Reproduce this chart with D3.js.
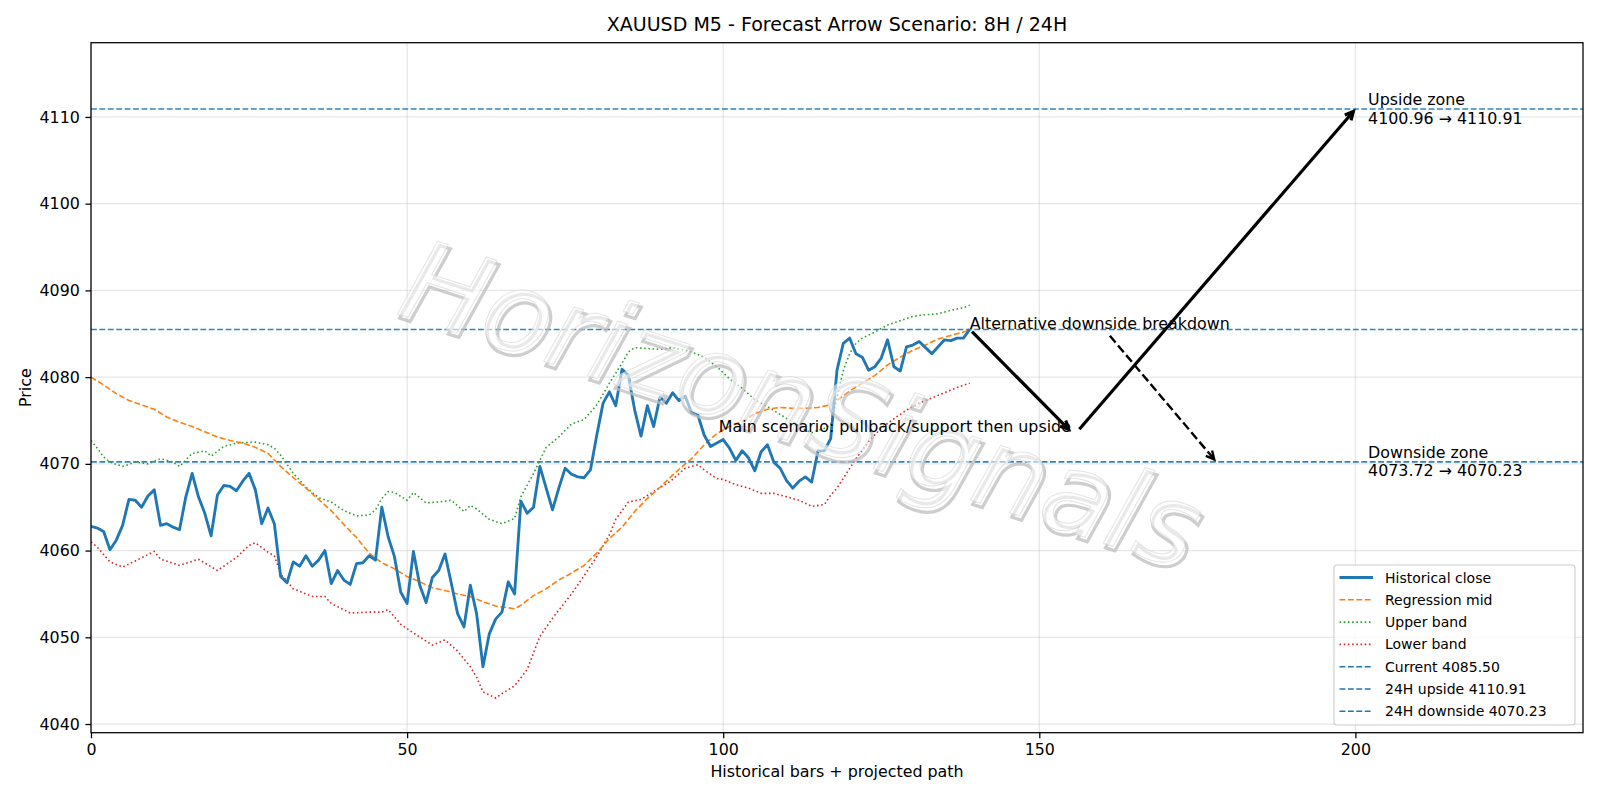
<!DOCTYPE html>
<html>
<head>
<meta charset="utf-8">
<script src="https://cdn.jsdelivr.net/npm/d3@7"></script>
<style>
  html, body { margin: 0; padding: 0; background: #fff; }
  svg { display: block; font-family: "DejaVu Sans", sans-serif; }
</style>
</head>
<body>
<svg id="chart" width="1600" height="800"></svg>
<script>
// ======================= DATA ===============================
const closeValues = [
  4062.8, 4062.6, 4062.2, 4060.1, 4061.2, 4062.9, 4065.9, 4065.8, 4065.0, 4066.3,
  4067.0, 4062.9, 4063.1, 4062.7, 4062.4, 4066.2, 4068.9, 4066.2, 4064.3, 4061.7,
  4066.4, 4067.5, 4067.4, 4066.9, 4068.0, 4068.9, 4067.0, 4063.1, 4064.9, 4063.1,
  4057.0, 4056.3, 4058.7, 4058.2, 4059.4, 4058.2, 4058.9, 4060.0, 4056.2, 4057.7,
  4056.6, 4056.1, 4058.5, 4058.6, 4059.4, 4058.9, 4065.0, 4061.6, 4059.3, 4055.2,
  4053.9, 4059.9, 4056.0, 4054.0, 4056.9, 4057.7, 4059.6, 4056.2, 4052.7, 4051.2,
  4056.0, 4052.7, 4046.6, 4050.4, 4052.1, 4052.9, 4056.4, 4055.0, 4065.7, 4064.3,
  4065.0, 4069.7, 4067.2, 4064.7, 4067.2, 4069.5, 4068.8, 4068.5, 4068.4, 4069.3,
  4073.3, 4077.0, 4078.3, 4076.7, 4080.9, 4080.2, 4076.2, 4073.2, 4076.7, 4074.3,
  4077.7, 4077.0, 4078.2, 4077.3, 4077.8, 4075.9, 4075.6, 4073.3, 4072.0, 4072.4,
  4072.8, 4071.8, 4070.4, 4071.5, 4070.7, 4069.2, 4071.4, 4072.2, 4070.2, 4069.5,
  4068.1, 4067.2, 4068.0, 4068.5, 4067.9, 4071.5, 4071.5, 4072.9, 4080.8, 4083.9,
  4084.5, 4082.7, 4082.3, 4080.8, 4081.2, 4082.2, 4084.3, 4081.2, 4080.7, 4083.5,
  4083.7, 4084.1, 4083.4, 4082.7, 4083.5, 4084.3, 4084.2, 4084.5, 4084.5, 4085.5
];

const midIdx = [0, 2, 4, 6, 8, 10, 12, 14, 16, 18, 20, 22, 24, 26, 28, 30, 32, 34, 36, 38,
  40, 42, 44, 46, 48, 50, 52, 54, 56, 58, 60, 62, 64, 66, 67, 68, 70, 72, 74, 76,
  78, 80, 82, 84, 86, 88, 90, 92, 94, 95, 97, 99, 101, 103, 105, 107, 109, 111, 113, 115,
  117, 118, 120, 122, 124, 126, 128, 130, 132, 134, 136, 138, 139];
const midValues = [4080.0, 4079.1, 4078.1, 4077.3, 4076.8, 4076.3, 4075.4, 4074.8, 4074.3, 4073.7,
  4073.1, 4072.7, 4072.4, 4071.9, 4071.2, 4069.7, 4068.4, 4067.2, 4065.9, 4064.6,
  4063.0, 4061.5, 4059.7, 4058.6, 4057.9, 4057.0, 4056.4, 4055.7, 4055.4, 4055.0,
  4054.7, 4054.1, 4053.6, 4053.4, 4053.3, 4053.7, 4054.8, 4055.6, 4056.6, 4057.4,
  4058.3, 4059.7, 4061.4, 4062.7, 4064.5, 4066.0, 4067.3, 4068.7, 4070.0, 4070.6,
  4072.2, 4073.5, 4074.3, 4074.9, 4075.8, 4076.3, 4076.5, 4076.4, 4076.4, 4076.5,
  4076.8, 4077.3, 4078.4, 4079.3, 4080.2, 4081.4, 4082.3, 4083.1, 4083.7, 4084.4,
  4084.8, 4085.2, 4085.4];

const upperIdx = [0, 1, 2, 3, 5, 7, 9, 11, 13, 14, 16, 18, 19, 21, 23, 26, 28, 29, 30, 32,
  34, 36, 38, 40, 42, 44, 45, 46, 47, 48, 50, 51, 53, 55, 57, 59, 60, 61, 63, 65,
  67, 68, 70, 72, 74, 76, 78, 80, 82, 84, 85, 86, 88, 90, 92, 94, 95, 97, 99, 101,
  103, 105, 107, 109, 111, 113, 114, 116, 117, 118, 119, 120, 121, 122, 124, 126, 128, 130, 132, 134,
  136, 138, 139];
const upperValues = [4072.7, 4071.8, 4070.8, 4070.2, 4069.7, 4070.2, 4070.0, 4070.6, 4070.2, 4069.7,
  4071.2, 4071.5, 4070.9, 4072.0, 4072.4, 4072.5, 4072.2, 4071.8, 4071.0, 4068.9,
  4067.3, 4066.1, 4065.6, 4064.6, 4064.0, 4064.1, 4064.7, 4066.0, 4066.8, 4066.7,
  4065.8, 4066.7, 4065.5, 4065.6, 4065.8, 4064.5, 4065.2, 4064.8, 4063.6, 4063.1,
  4063.7, 4066.2, 4068.9, 4071.9, 4073.1, 4074.6, 4075.1, 4076.8, 4079.3, 4081.6,
  4082.9, 4083.4, 4083.3, 4083.2, 4083.4, 4083.1, 4082.9, 4082.3, 4081.2, 4079.8,
  4078.7, 4077.4, 4076.6, 4075.7, 4074.8, 4073.9, 4073.6, 4074.1, 4074.5, 4077.6,
  4080.8, 4082.7, 4083.9, 4084.5, 4085.2, 4086.0, 4086.5, 4087.0, 4087.2, 4087.3,
  4087.7, 4088.0, 4088.3];

const lowerIdx = [0, 1, 3, 5, 7, 10, 11, 14, 17, 20, 23, 25, 26, 28, 29, 30, 32, 35, 37, 38,
  41, 44, 46, 47, 49, 51, 54, 56, 58, 60, 61, 62, 64, 65, 67, 69, 71, 73, 76, 78,
  80, 82, 83, 85, 87, 89, 91, 92, 94, 96, 97, 99, 100, 102, 104, 106, 108, 110, 112, 114,
  116, 117, 118, 121, 123, 125, 127, 129, 131, 133, 135, 137, 139];
const lowerValues = [4061.0, 4060.4, 4058.7, 4058.1, 4058.8, 4059.9, 4059.0, 4058.3, 4059.0, 4057.7,
  4059.2, 4060.6, 4060.9, 4059.8, 4059.4, 4057.3, 4055.6, 4054.7, 4054.7, 4053.9,
  4052.8, 4052.9, 4052.9, 4053.2, 4051.5, 4050.5, 4049.1, 4049.7, 4048.4, 4046.6,
  4045.4, 4043.7, 4043.0, 4043.5, 4044.4, 4046.3, 4050.1, 4052.2, 4055.0, 4057.1,
  4059.3, 4061.8, 4063.6, 4065.6, 4065.9, 4066.8, 4067.7, 4068.2, 4069.5, 4069.9,
  4069.3, 4068.3, 4068.2, 4067.6, 4067.2, 4066.6, 4066.6, 4066.2, 4065.8, 4065.1,
  4065.3, 4066.4, 4067.2, 4070.6, 4072.6, 4074.1, 4075.2, 4076.2, 4077.0, 4077.6,
  4078.2, 4078.8, 4079.3];

const currentPrice = 4085.50;
const upsideLevel = 4110.91;
const upsideStart = 4100.96;
const downsideLevel = 4070.23;
const downsideStart = 4073.72;

// projected path: [fromIdx, fromPrice, toIdx, toPrice]
const mainLeg1 = [139, currentPrice, 155, downsideStart];
const mainLeg2 = [156, downsideStart, 200, upsideLevel];
const altTarget = [178, downsideLevel];
const zoneLabelIdx = 202;

const xTicks = [0, 50, 100, 150, 200];
const yTicks = [4040, 4050, 4060, 4070, 4080, 4090, 4100, 4110];

const legendLabels = ['Historical close', 'Regression mid', 'Upper band', 'Lower band',
  'Current 4085.50', '24H upside 4110.91', '24H downside 4070.23'];

const watermarkText = 'HorizonSignals';

// ======================= SETUP ===============================
const PT = 1600 / 14 / 72;      // px per point (figure 14in wide)
const FS = 10 * PT;             // base font size
const plot = { left: 91, right: 1583, top: 42.7, bottom: 732.7 };
const svg = d3.select('#chart');

const xScale = d3.scaleLinear().domain([0, 236]).range([plot.left, plot.right]);
const yScale = d3.scaleLinear().domain([4039.0, 4118.56]).range([plot.bottom, plot.top]);

const C = { blue: '#1f77b4', orange: '#ff7f0e', green: '#2ca02c', red: '#d62728' };
const DASH = `${3.7 * PT},${1.6 * PT}`;
const DOT = `${1 * PT},${1.65 * PT}`;

svg.append('defs').append('clipPath').attr('id', 'clip')
  .append('rect')
  .attr('x', plot.left).attr('y', plot.top)
  .attr('width', plot.right - plot.left).attr('height', plot.bottom - plot.top);

// ======================= GRID ===============================
const grid = svg.append('g').attr('class', 'grid');
grid.selectAll('.gx').data(xTicks).enter().append('line')
  .attr('x1', d => xScale(d)).attr('x2', d => xScale(d))
  .attr('y1', plot.top).attr('y2', plot.bottom)
  .attr('stroke', '#b0b0b0').attr('stroke-opacity', 0.3).attr('stroke-width', 0.8 * PT);
grid.selectAll('.gy').data(yTicks).enter().append('line')
  .attr('x1', plot.left).attr('x2', plot.right)
  .attr('y1', d => yScale(d)).attr('y2', d => yScale(d))
  .attr('stroke', '#b0b0b0').attr('stroke-opacity', 0.3).attr('stroke-width', 0.8 * PT);

// ======================= SERIES ===============================
const series = svg.append('g').attr('clip-path', 'url(#clip)');
const line = d3.line().x(d => xScale(d[0])).y(d => yScale(d[1]));

const hLevels = [currentPrice, upsideLevel, downsideLevel];
series.selectAll('.hline').data(hLevels).enter().append('line')
  .attr('x1', plot.left).attr('x2', plot.right)
  .attr('y1', d => yScale(d)).attr('y2', d => yScale(d))
  .attr('stroke', C.blue).attr('stroke-width', PT)
  .attr('stroke-dasharray', DASH).attr('opacity', 0.9);

series.append('path')
  .datum(upperIdx.map((x, i) => [x, upperValues[i]]))
  .attr('d', line).attr('fill', 'none')
  .attr('stroke', C.green).attr('stroke-width', PT).attr('stroke-dasharray', DOT);

series.append('path')
  .datum(lowerIdx.map((x, i) => [x, lowerValues[i]]))
  .attr('d', line).attr('fill', 'none')
  .attr('stroke', C.red).attr('stroke-width', PT).attr('stroke-dasharray', DOT);

series.append('path')
  .datum(midIdx.map((x, i) => [x, midValues[i]]))
  .attr('d', line).attr('fill', 'none')
  .attr('stroke', C.orange).attr('stroke-width', PT).attr('stroke-dasharray', DASH);

series.append('path')
  .datum(closeValues.map((v, i) => [i, v]))
  .attr('d', line).attr('fill', 'none')
  .attr('stroke', C.blue).attr('stroke-width', 1.8 * PT)
  .attr('stroke-linejoin', 'round');

// ======================= WATERMARK (drawn over the lines) ===============================
const wm = svg.append('g')
  .attr('transform', `translate(${xScale(110.5)}, ${yScale(4072.6)}) rotate(18)`)
  .style('font-family', '"DejaVu Sans", sans-serif')
  .style('font-style', 'oblique')
  .style('font-size', '112px')
  .attr('text-anchor', 'middle');
wm.append('text').attr('x', 3.5).attr('y', 3.5).text(watermarkText)
  .attr('fill', 'none')
  .attr('stroke', '#bdbdbd').attr('stroke-opacity', 0.75).attr('stroke-width', 3.2);
wm.append('text').attr('x', 0).attr('y', 0).text(watermarkText)
  .attr('fill', '#ffffff').attr('fill-opacity', 0.55)
  .attr('stroke', '#d4d4d4').attr('stroke-opacity', 0.6).attr('stroke-width', 1);

// ======================= ARROWS & LABELS ===============================
const ann = svg.append('g').style('font-size', `${FS}px`);

// draws a line with an open "->" head, shrunk by 2pt on both ends like matplotlib
function drawArrow(p0, p1, width, dash) {
  const dx = p1[0] - p0[0], dy = p1[1] - p0[1];
  const len = Math.hypot(dx, dy), ux = dx / len, uy = dy / len;
  const shrink = 2 * PT;
  const a = [p0[0] + ux * shrink, p0[1] + uy * shrink];
  const b = [p1[0] - ux * shrink, p1[1] - uy * shrink];
  ann.append('line')
    .attr('x1', a[0]).attr('y1', a[1]).attr('x2', b[0]).attr('y2', b[1])
    .attr('stroke', '#000').attr('stroke-width', width)
    .attr('stroke-dasharray', dash || null);
  const hl = 4 * PT * 1.3, hw = 2 * PT * 1.3;
  const nx = -uy, ny = ux;
  const h1 = [b[0] - ux * hl + nx * hw, b[1] - uy * hl + ny * hw];
  const h2 = [b[0] - ux * hl - nx * hw, b[1] - uy * hl - ny * hw];
  ann.append('path')
    .attr('d', `M${h1[0]},${h1[1]}L${b[0]},${b[1]}L${h2[0]},${h2[1]}`)
    .attr('fill', 'none').attr('stroke', '#000').attr('stroke-width', width);
}

const px = (i, v) => [xScale(i), yScale(v)];

drawArrow(px(mainLeg1[0], mainLeg1[1]), px(mainLeg1[2], mainLeg1[3]), 2 * PT);
drawArrow(px(mainLeg2[0], mainLeg2[1]), px(mainLeg2[2], mainLeg2[3]), 2 * PT);

ann.append('text')
  .attr('x', xScale(mainLeg1[2])).attr('y', yScale(downsideStart))
  .attr('text-anchor', 'end').text('Main scenario: pullback/support then upside');

const altText = ann.append('text')
  .attr('x', xScale(mainLeg1[0])).attr('y', yScale(currentPrice))
  .text('Alternative downside breakdown');

// dashed alternative arrow starts from the text box edge toward the target
{
  const bb = altText.node().getBBox();
  const cx = bb.x + bb.width / 2, cy = bb.y + bb.height / 2;
  const t = px(altTarget[0], altTarget[1]);
  const dx = t[0] - cx, dy = t[1] - cy;
  const k = Math.min((bb.height / 2) / Math.abs(dy), (bb.width / 2) / Math.abs(dx));
  drawArrow([cx + dx * k, cy + dy * k], t, 1.5 * PT, `${5.55 * PT},${2.4 * PT}`);
}

const zoneLabels = [
  { level: upsideLevel, lines: ['Upside zone', `${upsideStart.toFixed(2)} \u2192 ${upsideLevel.toFixed(2)}`] },
  { level: downsideLevel, lines: ['Downside zone', `${downsideStart.toFixed(2)} \u2192 ${downsideLevel.toFixed(2)}`] }
];
zoneLabels.forEach(z => {
  const t = ann.append('text').attr('x', xScale(zoneLabelIdx)).attr('y', yScale(z.level));
  t.append('tspan').attr('x', xScale(zoneLabelIdx)).attr('dy', '-0.25em').text(z.lines[0]);
  t.append('tspan').attr('x', xScale(zoneLabelIdx)).attr('dy', '1.17em').text(z.lines[1]);
});

// ======================= AXES ===============================
const tickLen = 3.5 * PT;
const xAxis = svg.append('g')
  .attr('transform', `translate(0, ${plot.bottom})`)
  .call(d3.axisBottom(xScale).tickValues(xTicks).tickSize(tickLen).tickPadding(tickLen).tickFormat(d3.format('d')));
const yAxis = svg.append('g')
  .attr('transform', `translate(${plot.left}, 0)`)
  .call(d3.axisLeft(yScale).tickValues(yTicks).tickSize(tickLen).tickPadding(tickLen).tickFormat(d3.format('d')));
[xAxis, yAxis].forEach(a => {
  a.select('.domain').remove();
  a.selectAll('text').style('font-size', `${FS}px`).style('font-family', '"DejaVu Sans", sans-serif').attr('fill', '#000');
  a.selectAll('line').attr('stroke', '#000').attr('stroke-width', 0.8 * PT);
});

svg.append('rect')
  .attr('x', plot.left).attr('y', plot.top)
  .attr('width', plot.right - plot.left).attr('height', plot.bottom - plot.top)
  .attr('fill', 'none').attr('stroke', '#000').attr('stroke-width', 0.8 * PT);

// ======================= TITLES ===============================
svg.append('text')
  .attr('x', (plot.left + plot.right) / 2).attr('y', 30.5)
  .attr('text-anchor', 'middle').style('font-size', `${12 * PT}px`)
  .text('XAUUSD M5 - Forecast Arrow Scenario: 8H / 24H');

svg.append('text')
  .attr('x', (plot.left + plot.right) / 2).attr('y', 777)
  .attr('text-anchor', 'middle').style('font-size', `${FS}px`)
  .text('Historical bars + projected path');

svg.append('text')
  .attr('transform', `translate(31, ${(plot.top + plot.bottom) / 2}) rotate(-90)`)
  .attr('text-anchor', 'middle').style('font-size', `${FS}px`)
  .text('Price');

// ======================= LEGEND ===============================
const legendStyles = [
  { color: C.blue, width: 1.8 * PT, dash: null },
  { color: C.orange, width: PT, dash: DASH },
  { color: C.green, width: PT, dash: DOT },
  { color: C.red, width: PT, dash: DOT },
  { color: C.blue, width: PT, dash: DASH },
  { color: C.blue, width: PT, dash: DASH },
  { color: C.blue, width: PT, dash: DASH }
];
const legend = svg.append('g').attr('transform', 'translate(1334, 565)');
legend.append('rect')
  .attr('width', 241).attr('height', 160).attr('rx', 3)
  .attr('fill', '#fff').attr('fill-opacity', 0.8)
  .attr('stroke', '#cccccc').attr('stroke-width', 1.1);
legendLabels.forEach((label, i) => {
  const y = 12.5 + i * 22.3;
  legend.append('line')
    .attr('x1', 5.5).attr('x2', 39).attr('y1', y).attr('y2', y)
    .attr('stroke', legendStyles[i].color).attr('stroke-width', legendStyles[i].width)
    .attr('stroke-dasharray', legendStyles[i].dash);
  legend.append('text')
    .attr('x', 51).attr('y', y).attr('dy', '0.36em')
    .style('font-size', '14px').text(label);
});
</script>
</body>
</html>
